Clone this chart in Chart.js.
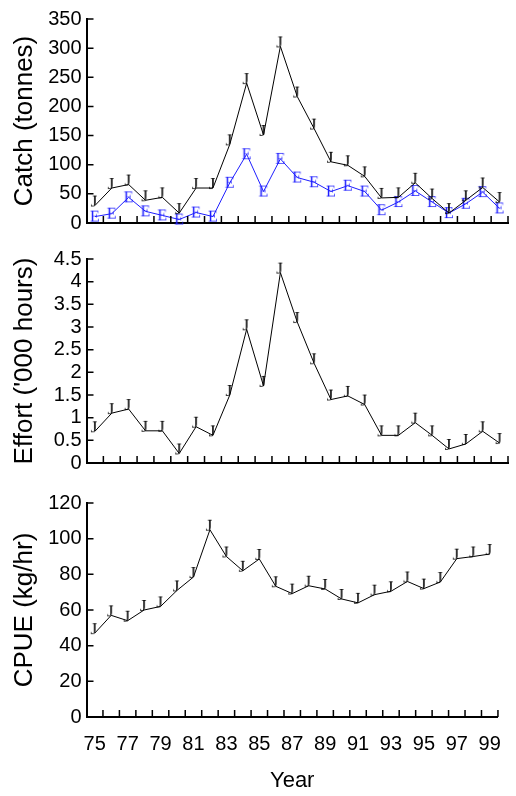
<!DOCTYPE html>
<html>
<head>
<meta charset="utf-8">
<script src="https://cdn.jsdelivr.net/npm/chart.js@4"></script>
<style>
  body { margin: 0; background: #fff; }
  #wrap { position: relative; width: 516px; height: 796px; }
  canvas { position: absolute; left: 0; }
</style>
</head>
<body>
<div id="wrap">
  <canvas id="catchChart" width="516" height="240" style="top:0px"></canvas>
  <canvas id="effortChart" width="516" height="240" style="top:240px"></canvas>
  <canvas id="cpueChart" width="516" height="316" style="top:480px"></canvas>
</div>
<script>
// values
const years = ['75','76','77','78','79','80','81','82','83','84','85','86','87',
               '88','89','90','91','92','93','94','95','96','97','98','99'];
const catchAll = [30, 60, 66, 39, 44, 17, 60, 60, 135, 240, 151, 303, 217,
                  162, 105, 99, 80, 43, 44, 69, 42, 17, 39, 61, 36];
const catchE = [11, 16, 44, 20, 13, 6, 18, 11, 69, 118, 54, 110, 78,
                70, 54, 64, 54, 22, 36, 55, 36, 17, 33, 53, 25];
const effort = [0.70, 1.10, 1.19, 0.71, 0.71, 0.21, 0.80, 0.61, 1.50, 2.95, 1.70, 4.20, 3.11,
                2.20, 1.40, 1.48, 1.29, 0.61, 0.61, 0.89, 0.61, 0.31, 0.42, 0.70, 0.44];
const cpue = [47, 57, 54, 60, 62, 71, 78.5, 105, 90, 82, 88.6, 73.3, 69.2,
              73.6, 71.8, 66.2, 64, 68.6, 70.5, 76, 72, 75.7, 88.8, 90, 91.4];

const catchTicks = [0, 50, 100, 150, 200, 250, 300, 350];
const effortTicks = [0, 0.5, 1, 1.5, 2, 2.5, 3, 3.5, 4, 4.5];
const cpueTicks = [0, 20, 40, 60, 80, 100, 120];

const sans = 'Liberation Sans, Arial, sans-serif';
const blue = 'rgb(30,30,255)';

// letter markers like the original plot
function glyph(letter, color, size, bottomAnchored) {
  const c = document.createElement('canvas');
  c.width = 16;
  c.height = bottomAnchored ? 30 : 18;
  const g = c.getContext('2d');
  g.fillStyle = color;
  g.font = size + 'px "Liberation Serif", "Times New Roman", serif';
  g.textAlign = 'center';
  g.textBaseline = 'alphabetic';
  if (bottomAnchored) g.fillText(letter, 7, c.height / 2 + 1);
  else g.fillText(letter, 8, c.height / 2 + size * 0.33);
  return c;
}
const jMark = glyph('J', '#000', 17, true);
const eMark = glyph('E', blue, 16, false);

// short tick marks pointing into the plot
const inwardTicks = {
  id: 'inwardTicks',
  afterDraw(chart) {
    const { ctx, chartArea: a } = chart;
    const x = chart.scales.x, y = chart.scales.y;
    const step = x.width / years.length;
    ctx.save();
    ctx.strokeStyle = '#000';
    ctx.lineWidth = 1.5;
    ctx.beginPath();
    y.ticks.forEach(t => {
      const py = y.getPixelForValue(t.value);
      ctx.moveTo(a.left, py);
      ctx.lineTo(a.left + 7, py);
    });
    for (let i = 0; i < years.length; i++) {
      const px = x.getPixelForValue(i) + step / 2;
      ctx.moveTo(px, a.bottom);
      ctx.lineTo(px, a.bottom - 7);
    }
    ctx.stroke();
    ctx.restore();
  }
};

function series(data, color, mark) {
  return {
    data: data,
    borderColor: color,
    borderWidth: 1,
    pointStyle: mark,
    pointRadius: 4,
    tension: 0,
    clip: false
  };
}

function makeChart(id, datasets, tickList, title, bottom) {
  return new Chart(document.getElementById(id), {
    type: 'line',
    data: { labels: years, datasets: datasets },
    plugins: [inwardTicks],
    options: {
      responsive: false,
      animation: false,
      layout: { padding: { top: bottom ? 23 : 19, bottom: bottom ? 0 : 8, right: 8, left: 0 } },
      plugins: { legend: { display: false }, tooltip: { enabled: false } },
      scales: {
        x: {
          type: 'category',
          offset: true,
          grid: { display: false, drawTicks: false },
          border: { display: true, color: '#000', width: 2 },
          ticks: {
            display: bottom,
            autoSkip: false,
            maxRotation: 0,
            padding: 15,
            color: '#000',
            font: { family: sans, size: 20 },
            callback: (v, i) => (i % 2 === 0 ? years[i] : '')
          },
          title: {
            display: bottom,
            text: 'Year',
            color: '#000',
            font: { family: sans, size: 22 },
            padding: { top: 0, bottom: 2 }
          },
          afterFit: s => { s.height = bottom ? 79 : 0; }
        },
        y: {
          min: tickList[0],
          max: tickList[tickList.length - 1],
          grid: { display: false, drawTicks: false },
          border: { display: true, color: '#000', width: 2 },
          afterBuildTicks: s => { s.ticks = tickList.map(v => ({ value: v })); },
          ticks: {
            autoSkip: false,
            padding: 5,
            color: '#000',
            font: { family: sans, size: 20 },
            callback: v => String(v)
          },
          title: {
            display: true,
            text: title,
            color: '#000',
            font: { family: sans, size: 26 },
            padding: { top: 9, bottom: 0 }
          },
          afterFit: s => { s.width = 86.5; }
        }
      }
    }
  });
}

makeChart('catchChart', [
  series(catchAll, '#000', jMark),
  series(catchE, blue, eMark)
], catchTicks, 'Catch (tonnes)', false);

makeChart('effortChart', [series(effort, '#000', jMark)], effortTicks, "Effort ('000 hours)", false);

makeChart('cpueChart', [series(cpue, '#000', jMark)], cpueTicks, 'CPUE (kg/hr)', true);
</script>
</body>
</html>
